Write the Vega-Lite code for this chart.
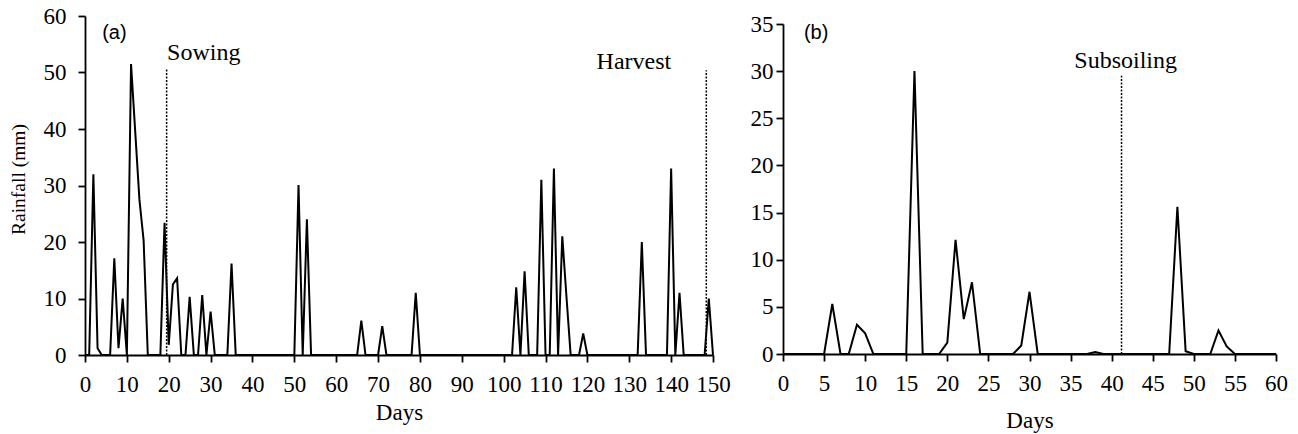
{
  "$schema": "https://vega.github.io/schema/vega-lite/v6.json",
  "background": "white",
  "padding": {"left": 8, "top": 5, "right": 5, "bottom": 5},
  "spacing": 70,
  "bounds": "flush",
  "config": {
    "view": {"stroke": null},
    "axis": {
      "domainColor": "black", "domainWidth": 1.8, "tickColor": "black", "tickWidth": 1.8, "tickSize": 7,
      "labelColor": "black", "labelFont": "Liberation Serif", "labelFontSize": 22,
      "titleFont": "Liberation Serif", "titleFontWeight": "normal", "titleColor": "black",
      "grid": false, "labelFlush": false, "labelOverlap": false
    }
  },
  "hconcat": [
    {
      "width": 628,
      "height": 339,
      "layer": [
        {
          "data": {"values": [
            {"day":0,"mm":0},{"day":1,"mm":0},{"day":2,"mm":32},{"day":3,"mm":1.2},{"day":4,"mm":0},{"day":5,"mm":0},{"day":6,"mm":0},{"day":7,"mm":17.1},{"day":8,"mm":1.2},{"day":9,"mm":10},
            {"day":10,"mm":0},{"day":11,"mm":51.5},{"day":12,"mm":39.5},{"day":13,"mm":27.5},{"day":14,"mm":20.3},{"day":15,"mm":0},{"day":16,"mm":0},{"day":17,"mm":0},{"day":18,"mm":0},{"day":19,"mm":23.4},
            {"day":20,"mm":1.8},{"day":21,"mm":12.5},{"day":22,"mm":13.6},{"day":23,"mm":0},{"day":24,"mm":0},{"day":25,"mm":10.3},{"day":26,"mm":0},{"day":27,"mm":0},{"day":28,"mm":10.6},{"day":29,"mm":0},
            {"day":30,"mm":7.7},{"day":31,"mm":0},{"day":32,"mm":0},{"day":33,"mm":0},{"day":34,"mm":0},{"day":35,"mm":16.2},{"day":36,"mm":0},{"day":37,"mm":0},{"day":38,"mm":0},{"day":39,"mm":0},
            {"day":40,"mm":0},{"day":41,"mm":0},{"day":42,"mm":0},{"day":43,"mm":0},{"day":44,"mm":0},{"day":45,"mm":0},{"day":46,"mm":0},{"day":47,"mm":0},{"day":48,"mm":0},{"day":49,"mm":0},
            {"day":50,"mm":0},{"day":51,"mm":30.1},{"day":52,"mm":0},{"day":53,"mm":24},{"day":54,"mm":0},{"day":55,"mm":0},{"day":56,"mm":0},{"day":57,"mm":0},{"day":58,"mm":0},{"day":59,"mm":0},
            {"day":60,"mm":0},{"day":61,"mm":0},{"day":62,"mm":0},{"day":63,"mm":0},{"day":64,"mm":0},{"day":65,"mm":0},{"day":66,"mm":6.1},{"day":67,"mm":0},{"day":68,"mm":0},{"day":69,"mm":0},
            {"day":70,"mm":0},{"day":71,"mm":5.1},{"day":72,"mm":0},{"day":73,"mm":0},{"day":74,"mm":0},{"day":75,"mm":0},{"day":76,"mm":0},{"day":77,"mm":0},{"day":78,"mm":0},{"day":79,"mm":11},
            {"day":80,"mm":0},{"day":81,"mm":0},{"day":82,"mm":0},{"day":83,"mm":0},{"day":84,"mm":0},{"day":85,"mm":0},{"day":86,"mm":0},{"day":87,"mm":0},{"day":88,"mm":0},{"day":89,"mm":0},
            {"day":90,"mm":0},{"day":91,"mm":0},{"day":92,"mm":0},{"day":93,"mm":0},{"day":94,"mm":0},{"day":95,"mm":0},{"day":96,"mm":0},{"day":97,"mm":0},{"day":98,"mm":0},{"day":99,"mm":0},
            {"day":100,"mm":0},{"day":101,"mm":0},{"day":102,"mm":0},{"day":103,"mm":12},{"day":104,"mm":0},{"day":105,"mm":14.8},{"day":106,"mm":0},{"day":107,"mm":0},{"day":108,"mm":0},{"day":109,"mm":31},
            {"day":110,"mm":0},{"day":111,"mm":0},{"day":112,"mm":33},{"day":113,"mm":0},{"day":114,"mm":21},{"day":115,"mm":10.3},{"day":116,"mm":0},{"day":117,"mm":0},{"day":118,"mm":0},{"day":119,"mm":3.8},
            {"day":120,"mm":0},{"day":121,"mm":0},{"day":122,"mm":0},{"day":123,"mm":0},{"day":124,"mm":0},{"day":125,"mm":0},{"day":126,"mm":0},{"day":127,"mm":0},{"day":128,"mm":0},{"day":129,"mm":0},
            {"day":130,"mm":0},{"day":131,"mm":0},{"day":132,"mm":0},{"day":133,"mm":20},{"day":134,"mm":0},{"day":135,"mm":0},{"day":136,"mm":0},{"day":137,"mm":0},{"day":138,"mm":0},{"day":139,"mm":0},
            {"day":140,"mm":33},{"day":141,"mm":0},{"day":142,"mm":11},{"day":143,"mm":0},{"day":144,"mm":0},{"day":145,"mm":0},{"day":146,"mm":0},{"day":147,"mm":0},{"day":148,"mm":0},{"day":149,"mm":10},
            {"day":150,"mm":0}
          ]},
          "mark": {"type": "line", "color": "black", "strokeWidth": 2},
          "encoding": {
            "x": {"field": "day", "type": "quantitative", "scale": {"domain": [0, 150], "nice": false},
                  "axis": {"title": "Days", "values": [0,10,20,30,40,50,60,70,80,90,100,110,120,130,140,150], "labelFont": "Liberation Serif", "labelFontSize": 23, "labelPadding": 11, "titleFontSize": 23, "titlePadding": 5.5}},
            "y": {"field": "mm", "type": "quantitative", "scale": {"domain": [0, 60], "nice": false},
                  "axis": {"title": "Rainfall (mm)", "values": [0,10,20,30,40,50,60], "labelFont": "Liberation Serif", "labelFontSize": 23, "labelPadding": 12, "titleFontSize": 19.5, "titlePadding": 15, "titleY": 163}}
          }
        },
        {
          "data": {"values": [{"day": 19.5, "mm": 0, "top": 50.7}, {"day": 148.4, "mm": 0, "top": 50.4}]},
          "mark": {"type": "rule", "color": "black", "strokeWidth": 1.5, "strokeDash": [2, 1.5]},
          "encoding": {
            "x": {"field": "day", "type": "quantitative"},
            "y": {"field": "mm", "type": "quantitative"},
            "y2": {"field": "top"}
          }
        },
        {
          "data": {"values": [{"day": 19.6, "mm": 52.3, "label": "Sowing"}]},
          "mark": {"type": "text", "font": "Liberation Serif", "fontSize": 24, "align": "left", "baseline": "alphabetic", "color": "black"},
          "encoding": {
            "x": {"field": "day", "type": "quantitative"},
            "y": {"field": "mm", "type": "quantitative"},
            "text": {"field": "label"}
          }
        },
        {
          "data": {"values": [{"day": 131.1, "mm": 50.7, "label": "Harvest"}]},
          "mark": {"type": "text", "font": "Liberation Serif", "fontSize": 24, "align": "center", "baseline": "alphabetic", "color": "black"},
          "encoding": {
            "x": {"field": "day", "type": "quantitative"},
            "y": {"field": "mm", "type": "quantitative"},
            "text": {"field": "label"}
          }
        },
        {
          "data": {"values": [{"day": 4.1, "mm": 56, "label": "(a)"}]},
          "mark": {"type": "text", "font": "Liberation Sans", "fontSize": 20, "align": "left", "baseline": "alphabetic", "color": "black"},
          "encoding": {
            "x": {"field": "day", "type": "quantitative"},
            "y": {"field": "mm", "type": "quantitative"},
            "text": {"field": "label"}
          }
        }
      ]
    },
    {
      "width": 493,
      "height": 338,
      "layer": [
        {
          "data": {"values": [
            {"day":0,"mm":0},{"day":1,"mm":0},{"day":2,"mm":0},{"day":3,"mm":0},{"day":4,"mm":0},{"day":5,"mm":0},{"day":6,"mm":5.3},{"day":7,"mm":0},{"day":8,"mm":0},{"day":9,"mm":3.1},
            {"day":10,"mm":2.2},{"day":11,"mm":0},{"day":12,"mm":0},{"day":13,"mm":0},{"day":14,"mm":0},{"day":15,"mm":0},{"day":16,"mm":30},{"day":17,"mm":0},{"day":18,"mm":0},{"day":19,"mm":0},
            {"day":20,"mm":1.2},{"day":21,"mm":12.1},{"day":22,"mm":3.7},{"day":23,"mm":7.6},{"day":24,"mm":0},{"day":25,"mm":0},{"day":26,"mm":0},{"day":27,"mm":0},{"day":28,"mm":0},{"day":29,"mm":0.9},
            {"day":30,"mm":6.6},{"day":31,"mm":0},{"day":32,"mm":0},{"day":33,"mm":0},{"day":34,"mm":0},{"day":35,"mm":0},{"day":36,"mm":0},{"day":37,"mm":0},{"day":38,"mm":0.2},{"day":39,"mm":0},
            {"day":40,"mm":0},{"day":41,"mm":0},{"day":42,"mm":0},{"day":43,"mm":0},{"day":44,"mm":0},{"day":45,"mm":0},{"day":46,"mm":0},{"day":47,"mm":0},{"day":48,"mm":15.6},{"day":49,"mm":0.3},
            {"day":50,"mm":0},{"day":51,"mm":0},{"day":52,"mm":0},{"day":53,"mm":2.5},{"day":54,"mm":0.8},{"day":55,"mm":0},{"day":56,"mm":0},{"day":57,"mm":0},{"day":58,"mm":0},{"day":59,"mm":0},
            {"day":60,"mm":0}
          ]},
          "mark": {"type": "line", "color": "black", "strokeWidth": 2},
          "encoding": {
            "x": {"field": "day", "type": "quantitative", "scale": {"domain": [0, 60], "nice": false},
                  "axis": {"title": "Days", "values": [0,5,10,15,20,25,30,35,40,45,50,55,60], "labelFont": "Liberation Serif", "labelFontSize": 23, "labelPadding": 11, "titleFontSize": 23, "titlePadding": 14.5}},
            "y": {"field": "mm", "type": "quantitative", "scale": {"domain": [0, 35], "nice": false, "range": [338, 8]},
                  "axis": {"title": null, "values": [0,5,10,15,20,25,30,35], "labelFont": "Liberation Serif", "labelFontSize": 23, "labelPadding": 3}}
          }
        },
        {
          "data": {"values": [{"day": 41.2, "mm": 0, "top": 29.5}]},
          "mark": {"type": "rule", "color": "black", "strokeWidth": 1.5, "strokeDash": [2, 1.5]},
          "encoding": {
            "x": {"field": "day", "type": "quantitative"},
            "y": {"field": "mm", "type": "quantitative"},
            "y2": {"field": "top"}
          }
        },
        {
          "data": {"values": [{"day": 41.7, "mm": 30.3, "label": "Subsoiling"}]},
          "mark": {"type": "text", "font": "Liberation Serif", "fontSize": 24, "align": "center", "baseline": "alphabetic", "color": "black"},
          "encoding": {
            "x": {"field": "day", "type": "quantitative"},
            "y": {"field": "mm", "type": "quantitative"},
            "text": {"field": "label"}
          }
        },
        {
          "data": {"values": [{"day": 2.55, "mm": 33.4, "label": "(b)"}]},
          "mark": {"type": "text", "font": "Liberation Sans", "fontSize": 20, "align": "left", "baseline": "alphabetic", "color": "black"},
          "encoding": {
            "x": {"field": "day", "type": "quantitative"},
            "y": {"field": "mm", "type": "quantitative"},
            "text": {"field": "label"}
          }
        }
      ]
    }
  ]
}
